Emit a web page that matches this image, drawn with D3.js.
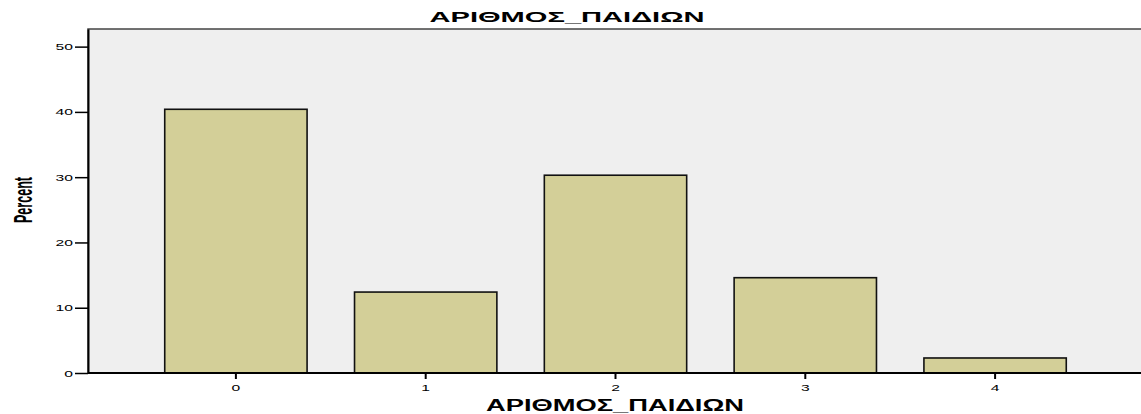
<!DOCTYPE html>
<html>
<head>
<meta charset="utf-8">
<script src="https://cdn.jsdelivr.net/npm/d3@7"></script>
<style>
  body { margin: 0; background: #fff; }
  svg { display: block; }
</style>
</head>
<body>
<svg width="1141" height="414"></svg>
<script>
// data
var categories = ["0", "1", "2", "3", "4"];
var percents = [40.4, 12.4, 30.3, 14.6, 2.3];
var yTicks = [0, 10, 20, 30, 40, 50];

var svg = d3.select("svg"),
    plot = {left: 88, top: 29, right: 1142, bottom: 373};

// schalen
var x = d3.scaleBand().domain(categories)
    .range([141, 1090]).paddingInner(0.25).paddingOuter(0.125);
var y = d3.scaleLinear().domain([0, 52.7]).range([plot.bottom, plot.top]);

// achtergrond plotvlak
svg.append("rect")
    .attr("x", plot.left).attr("y", plot.top)
    .attr("width", plot.right - plot.left).attr("height", plot.bottom - plot.top)
    .attr("fill", "#efefef").attr("stroke", "#444").attr("stroke-width", 1.5);

// bars
svg.selectAll(".bar")
  .data(percents)
  .enter().append("rect")
    .attr("class", "bar")
    .attr("x", function(d, i) { return x(categories[i]); })
    .attr("y", function(d) { return y(d); })
    .attr("width", x.bandwidth())
    .attr("height", function(d) { return plot.bottom - y(d); })
    .attr("fill", "#d3cf98")
    .attr("stroke", "#111")
    .attr("stroke-width", 1.6);

// y as
var gy = svg.append("g")
    .attr("transform", "translate(" + plot.left + ",0)")
    .call(d3.axisLeft(y).tickValues(yTicks).tickSize(13).tickPadding(3).tickSizeOuter(0));
gy.select(".domain").attr("stroke", "#000").attr("stroke-width", 2);
gy.selectAll(".tick line").attr("stroke", "#000").attr("stroke-width", 1.5);
gy.selectAll(".tick text")
    .attr("font-family", "Liberation Sans, Arial, sans-serif")
    .attr("font-size", 9.5).attr("fill", "#000")
    .attr("transform", "scale(1.65,1)")
    .attr("x", -15 / 1.65);

// x as
var gx = svg.append("g")
    .attr("transform", "translate(0," + plot.bottom + ")")
    .call(d3.axisBottom(x).tickSize(6).tickPadding(5).tickSizeOuter(0));
gx.select(".domain").attr("stroke", "#000").attr("stroke-width", 2)
    .attr("d", "M" + plot.left + ",0H" + plot.right);
gx.selectAll(".tick line").attr("stroke", "#000").attr("stroke-width", 2);
gx.selectAll(".tick text")
    .attr("font-family", "Liberation Sans, Arial, sans-serif")
    .attr("font-size", 9.5).attr("fill", "#000")
    .attr("transform", "scale(1.65,1)");

// titels
svg.append("text")
    .attr("x", 567).attr("y", 22)
    .attr("text-anchor", "middle")
    .attr("font-family", "Liberation Sans, Arial, sans-serif")
    .attr("font-weight", "bold").attr("font-size", 14)
    .attr("textLength", 275).attr("lengthAdjust", "spacingAndGlyphs")
    .text("ΑΡΙΘΜΟΣ_ΠΑΙΔΙΩΝ");

svg.append("text")
    .attr("x", 615).attr("y", 411)
    .attr("text-anchor", "middle")
    .attr("font-family", "Liberation Sans, Arial, sans-serif")
    .attr("font-weight", "bold").attr("font-size", 16)
    .attr("textLength", 258).attr("lengthAdjust", "spacingAndGlyphs")
    .text("ΑΡΙΘΜΟΣ_ΠΑΙΔΙΩΝ");

svg.append("text")
    .attr("transform", "translate(32,200) rotate(-90)")
    .attr("text-anchor", "middle")
    .attr("font-family", "Liberation Sans Narrow, Liberation Sans, Arial, sans-serif")
    .attr("font-weight", "bold").attr("font-size", 25)
    .attr("textLength", 46).attr("lengthAdjust", "spacingAndGlyphs")
    .text("Percent");
</script>
</body>
</html>
